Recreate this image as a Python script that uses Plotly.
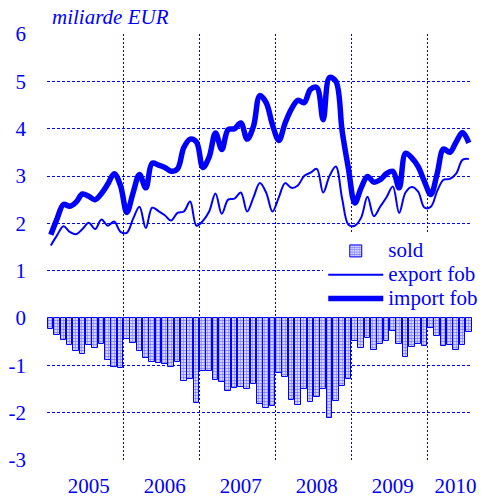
import plotly.graph_objects as go

BLUE = "#0000FF"
FONT = "'Liberation Serif', 'Times New Roman', Times, serif"

years = ["2005", "2006", "2007", "2008", "2009", "2010"]
year_label_pos = [6.5, 18.5, 30.5, 42.5, 54.5, 64.4]
year_starts = [0, 12, 24, 36, 48, 60]
y_ticks = [-3, -2, -1, 0, 1, 2, 3, 4, 5, 6]
y_tick_text = ["-3", "-2", "-1", "0", "1", "2", "3", "4", "5", "6"]

sold = [
    -0.23, -0.36, -0.47, -0.56, -0.69, -0.75, -0.56, -0.63, -0.55, -0.88, -1.04, -1.06,
    -0.44, -0.53, -0.69, -0.84, -0.94, -0.95, -0.97, -1.04, -0.92, -1.33, -1.29, -1.80,
    -1.11, -1.11, -1.30, -1.36, -1.54, -1.47, -1.45, -1.50, -1.40, -1.82, -1.90, -1.86,
    -1.17, -1.25, -1.73, -1.83, -1.51, -1.78, -1.67, -1.50, -2.11, -1.76, -1.44, -1.29,
    -0.48, -0.63, -0.42, -0.67, -0.54, -0.49, -0.28, -0.54, -0.83, -0.62, -0.54, -0.60,
    -0.22, -0.37, -0.59, -0.58, -0.67, -0.56, -0.30,
]

export_fob = [
    1.53, 1.75, 1.94, 1.82, 1.77, 1.88, 2.01, 1.88, 2.08, 1.95, 2.04, 1.82,
    1.80, 2.10, 2.35, 1.90, 2.33, 2.26, 2.17, 2.06, 2.22, 2.25, 2.46, 1.95,
    2.05, 2.25, 2.63, 2.20, 2.50, 2.52, 2.65, 2.25, 2.55, 2.85, 2.65, 2.25,
    2.55, 2.85, 2.75, 2.80, 3.00, 3.07, 3.15, 2.65, 3.00, 3.20, 2.52, 1.97,
    1.95, 2.12, 2.56, 2.15, 2.35, 2.55, 2.78, 2.22, 2.65, 2.77, 2.67, 2.33,
    2.35, 2.68, 2.92, 2.94, 3.05, 3.34, 3.36,
]

import_fob = [
    1.76, 2.10, 2.40, 2.36, 2.45, 2.62, 2.57, 2.50, 2.63, 2.83, 3.05, 2.80,
    2.23, 2.65, 3.03, 2.75, 3.27, 3.23, 3.18, 3.10, 3.15, 3.60, 3.78, 3.72,
    3.18, 3.40, 3.91, 3.56, 3.98, 4.00, 4.12, 3.78, 4.05, 4.70, 4.55, 4.08,
    3.75, 4.12, 4.42, 4.60, 4.55, 4.83, 4.87, 4.19, 5.08, 5.00, 3.95, 3.15,
    2.43, 2.75, 2.99, 2.87, 2.92, 3.05, 3.10, 2.75, 3.48, 3.38, 3.20, 2.88,
    2.61, 3.05, 3.57, 3.50, 3.72, 3.92, 3.70,
]

n = len(sold)
x = [i + 0.5 for i in range(n)]


def legend_name(s):
    # bigger visible text inside a compact legend row; trailing spaces keep the box wide enough
    return '<span style="font-size:21px">' + s + "</span>" + "&nbsp;" * 7


fig = go.Figure()
fig.add_trace(go.Bar(
    x=x, y=sold, name=legend_name("sold"), width=0.85,
    marker=dict(color="white", line=dict(color=BLUE, width=1),
                pattern=dict(shape=".", fgcolor=BLUE, bgcolor="white", size=3, solidity=0.65)),
))
fig.add_trace(go.Scatter(
    x=x, y=export_fob, name=legend_name("export fob"), mode="lines",
    line=dict(color=BLUE, width=2, shape="spline", smoothing=1.0),
))
fig.add_trace(go.Scatter(
    x=x, y=import_fob, name=legend_name("import fob"), mode="lines",
    line=dict(color=BLUE, width=5.5, shape="spline", smoothing=1.0),
))

fig.update_layout(
    width=481, height=497,
    margin=dict(l=47, r=9, t=34, b=37, autoexpand=False),
    paper_bgcolor="white", plot_bgcolor="white",
    font=dict(family=FONT, size=21, color=BLUE),
    showlegend=True,
    legend=dict(x=0.65, y=0.5305, xanchor="left", yanchor="top",
                bgcolor="white", font=dict(family=FONT, size=16, color=BLUE),
                itemwidth=55, tracegroupgap=0),
    xaxis=dict(range=[-0.1, n], tickmode="array", tickvals=year_label_pos, ticktext=years,
               showgrid=False, zeroline=False, showline=False, ticks="",
               automargin=False, ticklabelstandoff=11,
               tickfont=dict(family=FONT, size=21, color=BLUE),
               minor=dict(tickmode="array", tickvals=year_starts, showgrid=True,
                          gridcolor=BLUE, griddash="2px,2px", gridwidth=1, ticks="")),
    yaxis=dict(range=[-3, 6], tickmode="array", tickvals=y_ticks, ticktext=y_tick_text,
               showgrid=True, gridcolor=BLUE,
               griddash="3px,2px", gridwidth=1, zeroline=True, zerolinecolor=BLUE,
               zerolinewidth=1, showline=False, ticks="", automargin=False,
               ticklabelstandoff=20,
               tickfont=dict(family=FONT, size=21, color=BLUE)),
    bargap=0,
    annotations=[dict(text="<i>miliarde EUR</i>", xref="paper", yref="paper",
                      x=0.0, y=1.0, xanchor="left", yanchor="bottom", xshift=3, yshift=3,
                      showarrow=False, font=dict(family=FONT, size=21, color=BLUE))],
)

# remove the default page margin so the 481x497 figure fills the window exactly
fig.write_html("out.html",
               config={"displayModeBar": False},
               post_script="document.body.style.margin='0';document.body.style.overflow='hidden';")
